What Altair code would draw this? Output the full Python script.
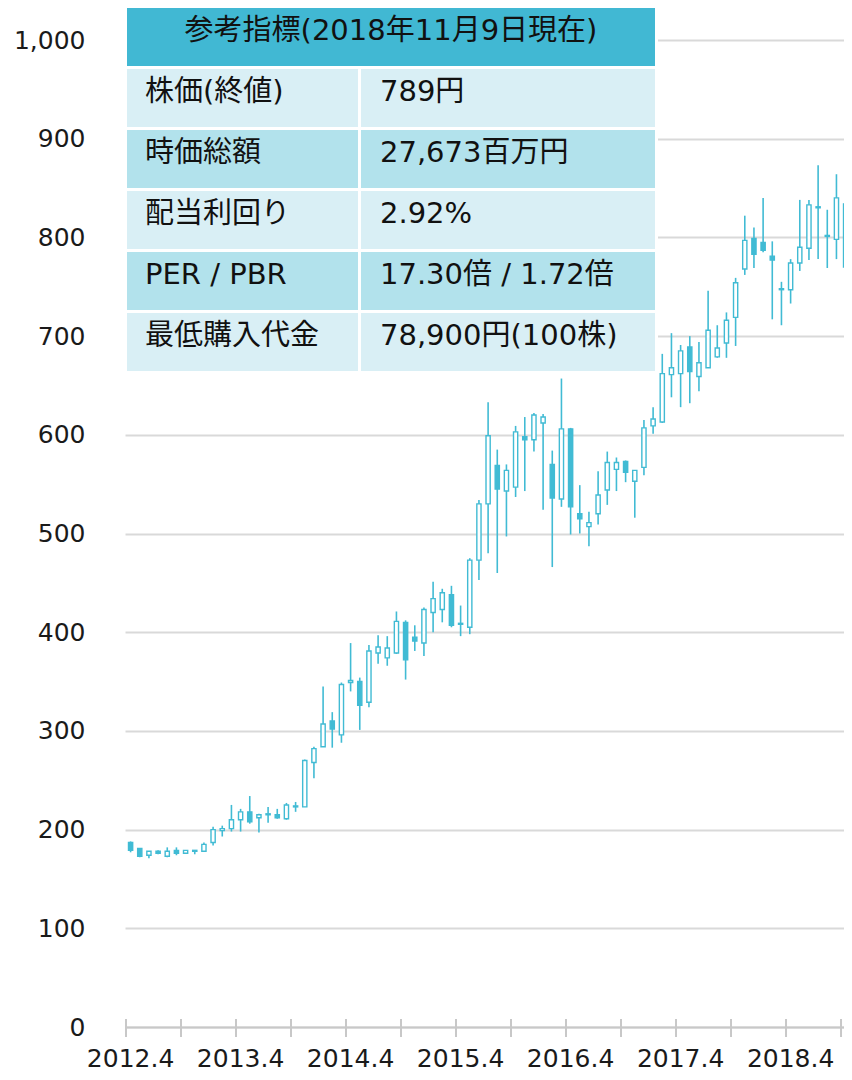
import altair as alt
import pandas as pd

# ---- monthly candles, 2012.4 .. 2018.11 (80 months) ----
opens  = [187, 181, 174, 178, 173, 179, 176, 178, 178, 187, 199, 201, 210, 218, 212, 215, 215, 211, 223, 223,
          268, 284, 310, 296, 349, 350, 329, 379, 374, 379, 410, 395, 389, 420, 423, 438, 408, 405, 473, 530,
          569, 543, 547, 598, 595, 612, 570, 535, 606, 520, 507, 520, 544, 565, 573, 553, 567, 609, 613, 661,
          662, 689, 659, 668, 679, 693, 719, 768, 799, 795, 781, 748, 747, 774, 789, 831, 801, 798, 834, 770]
closes = [179, 173, 178, 176, 178, 176, 179, 179, 185, 200, 201, 210, 218, 208, 215, 216, 212, 225, 224, 270,
          282, 307, 302, 347, 351, 326, 381, 385, 384, 411, 372, 391, 423, 434, 440, 407, 409, 473, 530, 599,
          545, 564, 603, 595, 620, 618, 536, 606, 527, 515, 511, 539, 572, 572, 562, 564, 607, 616, 662, 668,
          685, 664, 673, 706, 688, 716, 754, 797, 783, 787, 777, 747, 774, 790, 833, 830, 802, 840, 770, 789]
highs  = [188, 181, 178, 179, 182, 182, 179, 179, 187, 203, 204, 225, 221, 234, 216, 223, 221, 227, 228, 271,
          284, 345, 319, 349, 389, 354, 387, 397, 396, 421, 412, 407, 425, 451, 444, 447, 427, 475, 534, 633,
          585, 570, 609, 618, 622, 621, 584, 657, 607, 549, 522, 563, 583, 577, 574, 564, 615, 628, 682, 703,
          691, 700, 694, 746, 711, 724, 759, 822, 810, 840, 796, 755, 778, 838, 838, 873, 828, 864, 836, 792]
lows   = [177, 172, 171, 175, 172, 174, 176, 175, 178, 184, 193, 198, 198, 206, 197, 207, 211, 210, 218, 223,
          252, 284, 283, 288, 340, 301, 324, 368, 366, 378, 352, 381, 376, 400, 410, 405, 396, 398, 453, 480,
          460, 497, 537, 543, 583, 524, 466, 527, 499, 500, 487, 509, 529, 543, 552, 516, 559, 601, 612, 638,
          628, 632, 644, 668, 678, 678, 690, 762, 769, 785, 717, 711, 733, 766, 777, 778, 769, 778, 750, 750]

tick_months = list(range(0, 79, 6))
year_labels = ["2012.4", "2013.4", "2014.4", "2015.4", "2016.4", "2017.4", "2018.4"]
y_ticks = list(range(0, 1001, 100))

table_header = "参考指標(2018年11月9日現在)"
table_items = ["株価(終値)", "時価総額", "配当利回り", "PER / PBR", "最低購入代金"]
table_values = ["789円", "27,673百万円", "2.92%", "17.30倍 / 1.72倍", "78,900円(100株)"]

# ---- styling / layout constants ----
W, H = 719, 987
MONTH_PX = 9.167
CANDLE = "#41bbd4"
HEADER = "#41b8d3"
ROW_LIGHT = "#d9eff5"
ROW_DARK = "#b2e2ec"
FONT = "DejaVu Sans, Noto Sans CJK JP"

candles = pd.DataFrame({
    "t": [i + 0.5 for i in range(len(opens))],
    "open": opens, "close": closes, "high": highs, "low": lows,
})
candles["up"] = candles["close"] >= candles["open"]

x0 = -0.11
xscale = alt.Scale(domain=[x0, x0 + W / MONTH_PX], nice=False, zero=False, padding=0)
yscale = alt.Scale(domain=[0, 1000], nice=False, padding=0)

base = alt.Chart(candles)
wicks = base.mark_rule(color=CANDLE, strokeWidth=1.6, clip=True).encode(
    x=alt.X("t:Q", scale=xscale,
            axis=alt.Axis(domain=True, domainColor="#c8c8c8", domainWidth=2,
                          ticks=False, labels=False, grid=False, title=None)),
    y=alt.Y("low:Q", scale=yscale,
            axis=alt.Axis(values=y_ticks, format=",d", grid=True, gridColor="#d9d9d9",
                          gridWidth=2, domain=False, ticks=False, labelPadding=40,
                          labelFontSize=25, labelFont="DejaVu Sans", labelColor="#1a1a1a",
                          title=None)),
    y2="high:Q",
)
bodies = base.mark_bar(width=4.2, stroke=CANDLE, strokeWidth=1.4, clip=True).encode(
    x="t:Q",
    y="open:Q",
    y2="close:Q",
    fill=alt.condition("datum.up", alt.value("white"), alt.value(CANDLE)),
)

ticks_df = pd.DataFrame({"m": tick_months})
xticks = alt.Chart(ticks_df).mark_rule(color="#c8c8c8", strokeWidth=2).encode(
    x="m:Q", y=alt.value(H - 8), y2=alt.value(H + 10)
)
labels_df = pd.DataFrame({"m": [12 * k + 0.5 for k in range(len(year_labels))], "lab": year_labels})
xlabels = alt.Chart(labels_df).mark_text(fontSize=25, font="DejaVu Sans", color="#1a1a1a",
                                         baseline="middle", align="center").encode(
    x="m:Q", y=alt.value(H + 32), text="lab:N"
)

# ---- table overlay (pixel layout inside the plot area) ----
ROW_TOP, ROW_STEP, ROW_H = 29, 61, 58
rects = [{"x0": -1, "x1": 533, "y0": -34, "y1": 335, "c": "white"},
         {"x0": 2, "x1": 530, "y0": -32, "y1": 26, "c": HEADER}]
texts = []
for i, (item, val) in enumerate(zip(table_items, table_values)):
    top = ROW_TOP + ROW_STEP * i
    col = ROW_LIGHT if i % 2 == 0 else ROW_DARK
    rects.append({"x0": 2, "x1": 233, "y0": top, "y1": top + ROW_H, "c": col})
    rects.append({"x0": 236, "x1": 530, "y0": top, "y1": top + ROW_H, "c": col})
    texts.append({"x": 20, "y": top + 23, "txt": item})
    texts.append({"x": 255, "y": top + 23, "txt": val})

table_rects = alt.Chart(pd.DataFrame(rects)).mark_rect().encode(
    x=alt.X("x0:Q", scale=None), x2="x1:Q",
    y=alt.Y("y0:Q", scale=None), y2="y1:Q",
    fill=alt.Fill("c:N", scale=None),
)
table_text = alt.Chart(pd.DataFrame(texts)).mark_text(
    align="left", baseline="middle", fontSize=29, font=FONT, color="#111111"
).encode(
    x=alt.X("x:Q", scale=None), y=alt.Y("y:Q", scale=None), text="txt:N"
)
header_text = alt.Chart(pd.DataFrame({"x": [266], "y": [-9], "txt": [table_header]})).mark_text(
    align="center", baseline="middle", fontSize=29, font=FONT, color="#111111"
).encode(
    x=alt.X("x:Q", scale=None), y=alt.Y("y:Q", scale=None), text="txt:N"
)

chart = alt.layer(
    wicks, bodies, xticks, xlabels, table_rects, table_text, header_text
).properties(
    width=W, height=H,
    padding={"left": 117, "top": 32, "right": 0, "bottom": 45},
    autosize=alt.AutoSizeParams(type="none"),
    background="white",
).configure_view(stroke=None)

chart.save("out.html", embed_options={"renderer": "svg", "actions": False})
